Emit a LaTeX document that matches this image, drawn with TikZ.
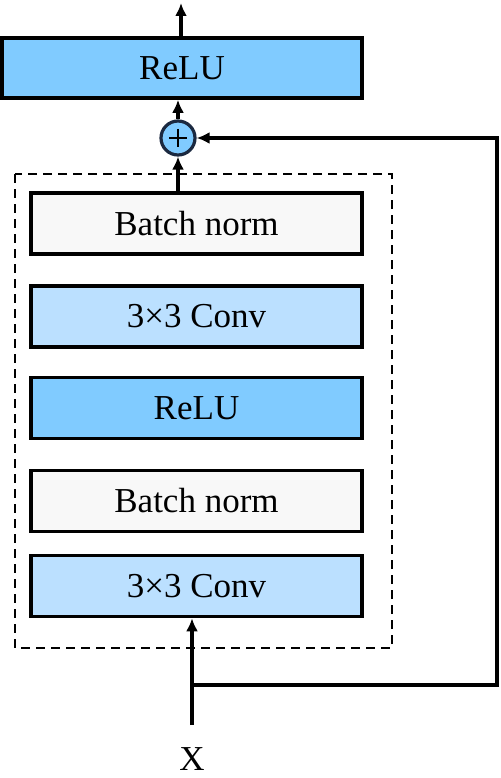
\documentclass[tikz,border=0pt]{standalone}
\usepackage{fontspec}
\setmainfont{Liberation Serif}
\usepackage{tikz}
\usetikzlibrary{arrows.meta,positioning}

\definecolor{relublue}{HTML}{80CBFF}
\definecolor{convblue}{HTML}{BBE0FF}
\definecolor{normgrey}{HTML}{F8F8F8}
\definecolor{sumline}{HTML}{1B2940}

\begin{document}
\begin{tikzpicture}[x=1pt,y=-1pt,
    layer/.style={draw, line width=3.6pt, rectangle, inner sep=0pt,
      minimum width=331pt, minimum height=61pt,
      font=\fontsize{35}{40}\selectfont},
    flow/.style={line width=3.2pt, -{Latex[length=13pt,width=12pt]}}]
  \useasboundingbox (0,0) rectangle (500,778);

  % output relu and the sum
  \node[layer, fill=relublue, minimum width=360pt, minimum height=60pt] (relutop) at (182,68) {ReLU};
  \node[draw=sumline, line width=3.2pt, circle, fill=relublue, minimum size=34pt, inner sep=0pt] (plus) at (178,138) {};
  \draw[line width=2.2pt] (plus.center) ++(-9,0) -- ++(18,0);
  \draw[line width=2.2pt] (plus.center) ++(0,-9) -- ++(0,18);

  % residual block
  \node[layer, fill=normgrey] (bna) at (196.5,223.5) {Batch norm};
  \node[layer, fill=convblue] (conva) at (196.5,316.5) {3×3 Conv};
  \node[layer, fill=relublue] (relu) at (196.5,408) {ReLU};
  \node[layer, fill=normgrey] (bnb) at (196.5,501) {Batch norm};
  \node[layer, fill=convblue] (convb) at (196.5,586) {3×3 Conv};
  \draw[line width=2.6pt, dash pattern=on 9pt off 6pt] (15,174) rectangle (392,648);

  % input
  \node[inner sep=0pt, font=\fontsize{35}{40}\selectfont] (x) at (192,759) {X};
  \coordinate (in) at (192,725);
  \coordinate (split) at (192,685);
  \coordinate (corner) at (497,685);
  \coordinate (out) at (181,3);

  \draw[flow] (in) -- (in |- convb.south);
  \draw[flow] (split) -- (corner) |- (plus.east);
  \draw[flow] (bna.north -| plus) -- (plus.south);
  \draw[flow] (plus.north) -- (plus.north |- relutop.south);
  \draw[flow] (relutop.north -| out) -- (out);
\end{tikzpicture}
\end{document}
